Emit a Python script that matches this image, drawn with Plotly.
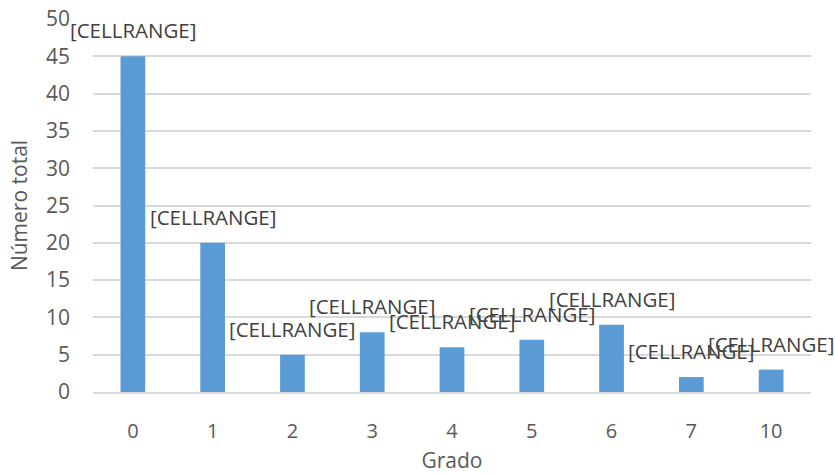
import plotly.graph_objects as go

# Distribution of totals by degree
grados = ["0", "1", "2", "3", "4", "5", "6", "7", "10"]
totales = [45, 20, 5, 8, 6, 7, 9, 2, 3]
etiquetas = ["[CELLRANGE]"] * len(grados)

FONT = "Open Sans"
GRAY = "#595959"

fig = go.Figure(
    go.Bar(
        x=grados,
        y=totales,
        width=0.31,
        marker=dict(color="#5b9bd5", line=dict(width=0)),
        hoverinfo="x+y",
    )
)

# Data labels sit just above each bar (x given as category index)
for i, (v, t) in enumerate(zip(totales, etiquetas)):
    fig.add_annotation(
        x=i, y=v, text=t, showarrow=False,
        xref="x", yref="y",
        yanchor="middle", yshift=26,
        font=dict(family=FONT, size=20.5, color="#404040"),
    )

fig.update_layout(
    width=835, height=474,
    margin=dict(l=93, r=24, t=19, b=82),
    paper_bgcolor="white", plot_bgcolor="white",
    showlegend=False,
    font=dict(family=FONT, size=21, color=GRAY),
)
fig.update_xaxes(
    type="category", automargin=False,
    range=[-0.5, len(grados) - 0.5],
    showgrid=False, zeroline=False,
    showline=True, linecolor="#d9d9d9", linewidth=1.5,
    ticks="", ticklabelstandoff=20,
    tickfont=dict(family=FONT, size=20, color=GRAY),
    title=dict(text="Grado", font=dict(family=FONT, size=21, color=GRAY), standoff=14),
)
fig.update_yaxes(
    range=[0, 50], dtick=5, automargin=False,
    showgrid=True, gridcolor="#d9d9d9", gridwidth=1.5,
    zeroline=False, showline=False,
    ticks="", ticklabelstandoff=22,
    tickfont=dict(family=FONT, size=21, color=GRAY),
    title=dict(text="Número total", font=dict(family=FONT, size=21, color=GRAY), standoff=12),
)

fig.write_html("out.html")
